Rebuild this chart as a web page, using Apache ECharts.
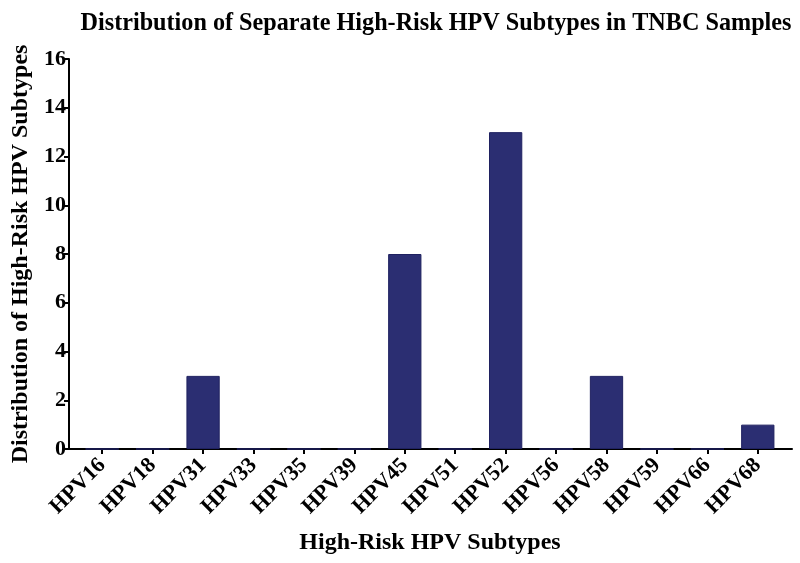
<!DOCTYPE html>
<html>
<head>
<meta charset="utf-8">
<script src="https://cdn.jsdelivr.net/npm/echarts@6/dist/echarts.min.js"></script>
<style>html,body{margin:0;padding:0;background:#fff}#c{width:800px;height:563px}</style>
</head>
<body>
<div id="c"></div>
<script>
var categories = ['HPV16','HPV18','HPV31','HPV33','HPV35','HPV39','HPV45','HPV51','HPV52','HPV56','HPV58','HPV59','HPV66','HPV68'];
var counts = [0,0,3,0,0,0,8,0,13,0,3,0,0,1];
var yTicks = [0,2,4,6,8,10,12,14,16];

var FONT = '"Liberation Serif", "Times New Roman", serif';
var chart = echarts.init(document.getElementById('c'), null, {renderer:'canvas'});
chart.setOption({
  backgroundColor:'#fff',
  animation:false,
  title:{
    text:'Distribution of Separate High-Risk HPV Subtypes in TNBC Samples',
    left:431, top:7, textAlign:'center',
    textStyle:{fontFamily:FONT, fontWeight:'bold', fontSize:24.2, color:'#000'}
  },
  grid:[
    {left:77, top:59, width:706, height:390, containLabel:false, outerBoundsMode:'none'},
    {left:69, top:59, width:723, height:390, containLabel:false, outerBoundsMode:'none'}
  ],
  xAxis:[
    {type:'category', gridIndex:0, data:categories, boundaryGap:true,
     axisLine:{show:false},
     axisTick:{show:true, alignWithLabel:true, length:5, lineStyle:{color:'#000', width:2}},
     axisLabel:{rotate:45, interval:0, margin:13, fontFamily:FONT, fontWeight:'bold', fontSize:22, color:'#000'},
     name:'High-Risk HPV Subtypes', nameLocation:'middle', nameGap:82,
     nameTextStyle:{fontFamily:FONT, fontWeight:'bold', fontSize:24, color:'#000'}
    },
    {type:'value', gridIndex:1, min:0, max:1,
     axisLine:{show:true, lineStyle:{color:'#000', width:2}},
     axisTick:{show:false}, axisLabel:{show:false}, splitLine:{show:false}}
  ],
  yAxis:[
    {type:'value', gridIndex:0, min:0, max:16, interval:2, show:false, splitLine:{show:false}},
    {type:'value', gridIndex:1, min:0, max:16, interval:2,
     axisLine:{show:true, lineStyle:{color:'#000', width:2}},
     axisTick:{show:true, length:5, lineStyle:{color:'#000', width:2}},
     axisLabel:{margin:3, fontFamily:FONT, fontWeight:'bold', fontSize:22, color:'#000',
       formatter:function(v){return yTicks.indexOf(v)>=0?String(v):'';}},
     splitLine:{show:false},
     name:'Distribution of High-Risk HPV Subtypes', nameLocation:'middle', nameGap:35,
     nameTextStyle:{fontFamily:FONT, fontWeight:'bold', fontSize:24, color:'#000'}
    }
  ],
  series:[{
    type:'bar', xAxisIndex:0, yAxisIndex:0, data:counts, barWidth:'66%',
    itemStyle:{color:'#2b2e72', borderColor:'#1f2160', borderWidth:1}
  }]
});
</script>
</body>
</html>
